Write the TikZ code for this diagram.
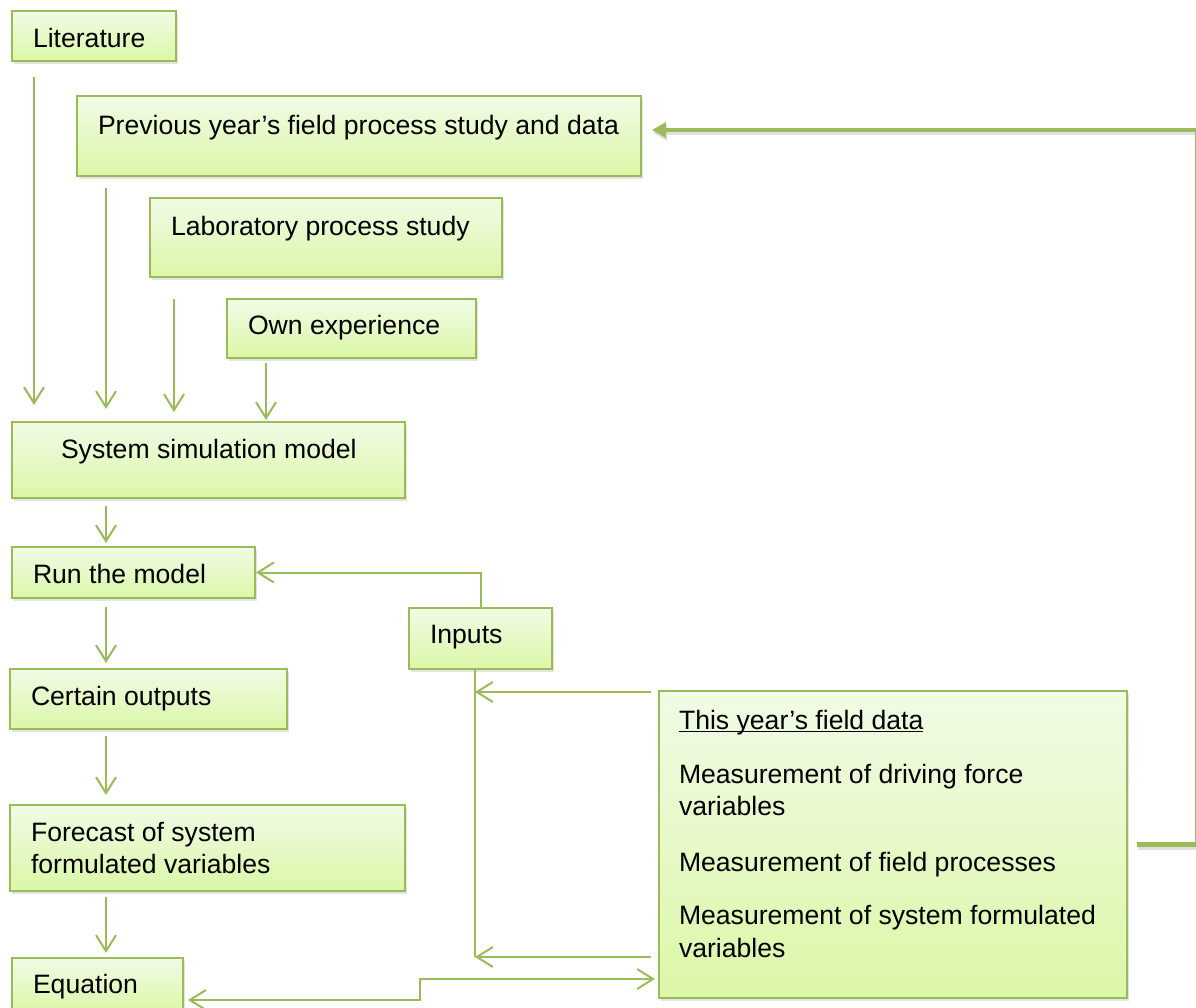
\documentclass[tikz,border=0pt]{standalone}
\usepackage{fontspec}
\setmainfont{Liberation Sans}
\usetikzlibrary{arrows.meta,shadows}
\definecolor{lineg}{HTML}{9BBB59}
\definecolor{boxtop}{HTML}{F1FBE6}
\definecolor{boxbot}{HTML}{DBF7A7}
\newcommand\myul[1]{\setbox0\hbox{#1}\rlap{\rule[-3pt]{\wd0}{1.4pt}}\box0}
\begin{document}
\begin{tikzpicture}[x=1pt,y=-1pt,
  box/.style={draw=lineg, line width=2pt, top color=boxtop, bottom color=boxbot,
    inner sep=0pt, outer sep=0pt, anchor=north west,
    drop shadow={shadow xshift=1.5pt, shadow yshift=-3pt, opacity=0.22}},
  txt/.style={anchor=base west, inner sep=0pt, outer sep=0pt,
    font=\fontsize{26.6pt}{32.5pt}\selectfont, text=black},
  conn/.style={draw=lineg, line width=2pt, -{Straight Barb[length=16pt,width=20pt]}},
  dconn/.style={draw=lineg, line width=2pt, {Straight Barb[length=16pt,width=20pt]}-{Straight Barb[length=16pt,width=20pt]}},
  plain/.style={draw=lineg, line width=2pt},
  fb/.style={draw=lineg, line width=4.5pt, -{Triangle[length=14pt,width=15pt]},
    preaction={draw=black!12, line width=4.5pt, transform canvas={xshift=1pt,yshift=-3pt}}}
]
\useasboundingbox (0,0) rectangle (1196,1007);

% boxes
\node[box, minimum width=164pt, minimum height=50pt] (lit) at (12,11) {};
\node[txt] (lit-t) at (33,47) {Literature};

\node[box, minimum width=564pt, minimum height=80pt] (prev) at (77,96) {};
\node[txt] (prev-t) at (98,134) {Previous year’s field process study and data};

\node[box, minimum width=352pt, minimum height=79pt] (lab) at (150,198) {};
\node[txt] (lab-t) at (171,235) {Laboratory process study};

\node[box, minimum width=249pt, minimum height=59pt] (own) at (227,299) {};
\node[txt] (own-t) at (248,334) {Own experience};

\node[box, minimum width=393pt, minimum height=76pt] (sys) at (12,422) {};
\node[txt] (sys-t) at (61,458) {System simulation model};

\node[box, minimum width=243pt, minimum height=51pt] (run) at (12,547) {};
\node[txt] (run-t) at (33,583) {Run the model};

\node[box, minimum width=277pt, minimum height=60pt] (cert) at (10,669) {};
\node[txt] (cert-t) at (31,705) {Certain outputs};

\node[box, minimum width=395pt, minimum height=86pt] (fore) at (10,805) {};
\node[txt] (fore-t1) at (31,841) {Forecast of system};
\node[txt] (fore-t2) at (31,873) {formulated variables};

\node[box, minimum width=171pt, minimum height=54pt] (eq) at (12,958) {};
\node[txt] (eq-t) at (33,993) {Equation};

\node[box, minimum width=143pt, minimum height=61pt] (inputs) at (409,608) {};
\node[txt] (inputs-t) at (430,643) {Inputs};

\node[box, minimum width=468pt, minimum height=307pt] (data) at (659,691) {};
\node[txt] (data-t1) at (679,729) {\myul{This year’s field data}};
\node[txt] (data-t2) at (679,783) {Measurement of driving force};
\node[txt] (data-t3) at (679,815) {variables};
\node[txt] (data-t4) at (679,871) {Measurement of field processes};
\node[txt] (data-t5) at (679,924) {Measurement of system formulated};
\node[txt] (data-t6) at (679,957) {variables};

% top inputs into the model
\draw[conn] ([xshift=22pt,yshift=-16pt]lit.south west) -- ([xshift=22pt,yshift=17pt]lit.south west |- sys.north);
\draw[conn] ([xshift=29pt,yshift=-12pt]prev.south west) -- ([xshift=29pt,yshift=13pt]prev.south west |- sys.north);
\draw[conn] ([xshift=24pt,yshift=-22pt]lab.south west) -- ([xshift=24pt,yshift=10pt]lab.south west |- sys.north);
\draw[conn] ([xshift=39pt,yshift=-5pt]own.south west) -- ([xshift=39pt,yshift=2pt]own.south west |- sys.north);

% main chain (all at x = 106)
\draw[conn] ([xshift=94pt,yshift=-8pt]sys.south west) -- ([xshift=94pt,yshift=4pt]sys.south west |- run.north);
\draw[conn] ([xshift=94pt,yshift=-9pt]run.south west) -- ([xshift=94pt,yshift=6pt]run.south west |- cert.north);
\draw[conn] ([xshift=96pt,yshift=-7pt]cert.south west) -- ([xshift=96pt,yshift=10pt]cert.south west |- fore.north);
\draw[conn] ([xshift=96pt,yshift=-6pt]fore.south west) -- ([xshift=96pt,yshift=5pt]fore.south west |- eq.north);

% inputs
\draw[conn] (inputs.north) |- ([xshift=1pt]run.east);
\coordinate (j1) at (475,692);
\coordinate (j2) at (475,957);
\draw[plain] (inputs.south -| j1) -- (j2);
\draw[conn] ([xshift=-8pt]data.north west |- j1) -- (j1);
\draw[conn] ([xshift=-8pt]data.west |- j2) -- (j2);

% equation <-> this year's data
\coordinate (k1) at (420,1000);
\coordinate (k2) at (420,979);
\draw[dconn] ([xshift=5pt]eq.east |- k1) -- (k1) -- (k2) -- ([xshift=-4pt]data.west |- k2);

% feedback to previous year's data
\draw[fb] ([xshift=10pt]data.east) -- ++(60,0) |- ([xshift=11pt,yshift=6pt]prev.east);
\end{tikzpicture}
\end{document}
